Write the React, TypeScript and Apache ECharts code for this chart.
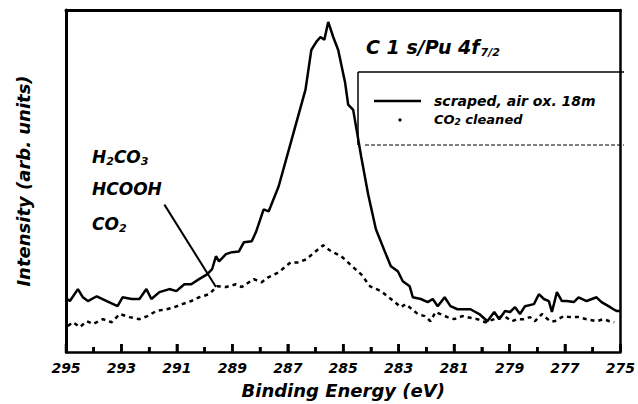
import { useEffect, useRef } from "react";
import * as echarts from "echarts";

// Binding energy axis: 295 eV on the left down to 275 eV on the right
const axisHigh = 295;
const axisLow = 275;
const majorStep = 2;

// tick positions (eV) along the energy axis
const majorTicks = [295, 293, 291, 289, 287, 285, 283, 281, 279, 277, 275];
const minorTicks = [294, 292, 290, 288, 286, 284, 282, 280, 278, 276];

// "scraped, air ox. 18m" (solid line)
const scrapedEnergy = [
  294.96, 294.86, 294.57, 294.39, 294.21, 293.89, 293.53, 293.14, 292.96, 292.63,
  292.35, 292.1, 291.92, 291.63, 291.27, 291.02, 290.73, 290.48, 290.2, 289.91,
  289.73, 289.59, 289.48, 289.23, 289.01, 288.76, 288.58, 288.3, 288.15, 287.87,
  287.69, 287.33, 286.86, 286.36, 286.15, 285.97, 285.82, 285.68, 285.54, 285.36,
  285.18, 284.93, 284.82, 284.64, 284.35, 284.1, 283.82, 283.49, 283.28, 283.03,
  282.85, 282.6, 282.49, 282.2, 281.95, 281.77, 281.59, 281.34, 281.13, 280.88,
  280.41, 280.09, 279.8, 279.55, 279.37, 279.16, 278.98, 278.8, 278.62, 278.44,
  278.12, 277.94, 277.76, 277.58, 277.47, 277.29, 277.11, 276.94, 276.68, 276.51,
  276.22, 275.86, 275.68, 275.43, 275.25, 275.14, 275.0,
];
const scrapedIntensity = [
  15.5, 14.9, 18.4, 16.0, 14.9, 16.3, 14.9, 13.4, 16.0, 15.5,
  15.5, 18.4, 15.5, 17.5, 18.4, 17.8, 19.8, 19.8, 21.3, 22.7,
  24.2, 28.0, 26.5, 28.6, 29.2, 29.4, 32.1, 32.4, 35.0, 41.7,
  41.1, 48.4, 62.1, 76.7, 88.3, 90.7, 92.1, 91.3, 96.5, 92.1,
  88.3, 78.7, 72.3, 70.8, 57.1, 46.1, 35.9, 29.2, 25.1, 23.6,
  20.7, 19.2, 16.0, 15.5, 14.6, 15.5, 13.4, 16.0, 13.4, 12.5,
  12.5, 11.1, 9.0, 11.7, 9.6, 12.0, 11.7, 13.1, 11.1, 13.4,
  14.0, 16.9, 15.5, 14.9, 11.7, 17.5, 14.9, 14.9, 14.6, 16.0,
  14.9, 16.0, 14.6, 13.4, 12.5, 12.0, 12.0,
];

// "CO2 cleaned" (dotted)
const cleanedEnergy = [
  294.93, 294.75, 294.5, 294.25, 294.03, 293.67, 293.35, 293.06, 292.71, 292.35,
  292.06, 291.74, 291.38, 291.09, 290.81, 290.48, 290.2, 289.84, 289.55, 289.23,
  288.87, 288.66, 288.23, 287.94, 287.69, 287.33, 286.9, 286.61, 286.33, 286.0,
  285.72, 285.43, 285.07, 284.64, 284.35, 284.03, 283.64, 283.28, 282.92, 282.74,
  282.31, 282.06, 281.85, 281.67, 281.49, 281.24, 280.99, 280.7, 280.52, 280.16,
  279.87, 279.55, 279.37, 279.19, 278.91, 278.73, 278.48, 278.26, 278.08, 277.83,
  277.54, 277.37, 277.04, 276.83, 276.51, 276.22, 275.86, 275.61, 275.39, 275.22,
];
const cleanedIntensity = [
  7.6, 8.7, 7.3, 9.0, 8.2, 9.6, 8.7, 11.1, 10.2, 9.6,
  10.5, 12.0, 12.5, 13.1, 14.0, 14.9, 16.0, 16.9, 19.2, 19.0,
  19.8, 19.0, 21.3, 20.4, 21.9, 23.3, 26.2, 26.2, 27.1, 29.4,
  31.2, 29.4, 28.0, 24.8, 22.7, 19.2, 17.8, 15.5, 13.1, 14.0,
  11.1, 10.5, 9.0, 11.7, 11.1, 10.2, 9.6, 10.5, 10.2, 9.6,
  8.7, 9.6, 10.2, 10.5, 9.0, 9.6, 9.6, 10.2, 9.0, 11.1,
  9.0, 9.0, 10.5, 10.2, 10.2, 9.6, 9.0, 9.6, 9.0, 8.7,
];

// leader line from the species labels to the shoulder
const leaderEnergy = [291.45, 289.59];
const leaderIntensity = [43.1, 19.0];

const FONT = "'DejaVu Sans', 'Liberation Sans', Arial, sans-serif";

const toPairs = (e: number[], v: number[]) => e.map((x, i) => [axisHigh - x, v[i]]);

const bi = (size: number) => ({
  fontFamily: FONT,
  fontWeight: "bold" as const,
  fontStyle: "italic" as const,
  fontSize: size,
  fill: "#000",
});

export default function App() {
  const ref = useRef<HTMLDivElement>(null);
  useEffect(() => {
    if (!ref.current) return;
    const chart = echarts.init(ref.current, undefined, { renderer: "svg" });
    const main = (s: number) => ({ fontFamily: FONT, fontWeight: "bold", fontStyle: "italic", fontSize: s });
    const sub = (s: number, p: number) => ({ ...main(s), padding: [p, 0, 0, 0] });
    const frameAxis = (w: number) => ({
      axisLine: { show: true, onZero: false, lineStyle: { color: "#000", width: w } },
      axisTick: { show: false },
      axisLabel: { show: false },
      splitLine: { show: false },
    });
    const baseGraphic: any[] = [
      {
        type: "text",
        x: 366,
        y: 47,
        style: {
          text: "{m|C 1 s/Pu 4f}{s|7/2}",
          rich: { m: main(19), s: { ...sub(11, 9), padding: [10, 0, 0, 1] } },
          verticalAlign: "middle",
          fill: "#000",
        },
      },
      { type: "line", shape: { x1: 358, y1: 72, x2: 624, y2: 72 }, style: { stroke: "#000", lineWidth: 1.5 } },
      { type: "line", shape: { x1: 358, y1: 72, x2: 358, y2: 145 }, style: { stroke: "#000", lineWidth: 1.5 } },
      {
        type: "line",
        shape: { x1: 365, y1: 145, x2: 624, y2: 145 },
        style: { stroke: "#000", lineWidth: 1.2, lineDash: [4, 2] },
      },
      { type: "line", shape: { x1: 374, y1: 101, x2: 421, y2: 101 }, style: { stroke: "#000", lineWidth: 2.5 } },
      { type: "text", x: 434, y: 101, style: { ...bi(14), text: "scraped, air ox. 18m", verticalAlign: "middle" } },
      { type: "circle", shape: { cx: 400, cy: 120, r: 1.6 }, style: { fill: "#000" } },
      {
        type: "text",
        x: 434,
        y: 119,
        style: {
          text: "{m|CO}{s|2}{m| cleaned}",
          rich: { m: main(13), s: sub(9, 6) },
          verticalAlign: "middle",
          fill: "#000",
        },
      },
      {
        type: "text",
        x: 92,
        y: 157,
        style: {
          text: "{m|H}{s|2}{m|CO}{s|3}",
          rich: { m: main(17), s: sub(11, 9) },
          verticalAlign: "middle",
          fill: "#000",
        },
      },
      { type: "text", x: 92, y: 189, style: { ...bi(17), text: "HCOOH", verticalAlign: "middle" } },
      {
        type: "text",
        x: 92,
        y: 224,
        style: {
          text: "{m|CO}{s|2}",
          rich: { m: main(17), s: sub(11, 9) },
          verticalAlign: "middle",
          fill: "#000",
        },
      },
    ];
    chart.setOption({
      animation: false,
      backgroundColor: "#fff",
      grid: {
        left: 66,
        right: 14,
        top: 10,
        bottom: 51,
        show: false,
        containLabel: false,
      },
      xAxis: [
        {
          type: "value",
          position: "bottom",
          min: 0,
          max: axisHigh - axisLow,
          interval: majorStep,
          name: "Binding Energy (eV)",
          nameLocation: "middle",
          nameGap: 29,
          nameTextStyle: { fontFamily: FONT, fontWeight: "bold", fontStyle: "italic", fontSize: 18, color: "#000" },
          axisLine: { show: true, onZero: false, lineStyle: { color: "#000", width: 2.5 } },
          axisTick: { show: true, inside: true, length: 8, lineStyle: { color: "#000", width: 2.5 } },
          minorTick: { show: true, splitNumber: 2, length: 5, lineStyle: { color: "#000", width: 2.5 } },
          splitLine: { show: false },
          axisLabel: {
            margin: 9,
            formatter: (v: number) => String(axisHigh - v),
            fontFamily: FONT,
            fontWeight: "bold",
            fontStyle: "italic",
            fontSize: 14,
            color: "#000",
          },
        },
        {
          type: "value",
          position: "top",
          min: 0,
          max: axisHigh - axisLow,
          ...frameAxis(3),
        },
      ],
      yAxis: [
        {
          type: "value",
          position: "left",
          min: 0,
          max: 100,
          name: "Intensity (arb. units)",
          nameLocation: "middle",
          nameGap: 34,
          nameTextStyle: { fontFamily: FONT, fontWeight: "bold", fontStyle: "italic", fontSize: 18, color: "#000" },
          ...frameAxis(3),
        },
        {
          type: "value",
          position: "right",
          min: 0,
          max: 100,
          ...frameAxis(2.5),
        },
      ],
      series: [
        {
          name: "scraped, air ox. 18m",
          type: "line",
          data: toPairs(scrapedEnergy, scrapedIntensity),
          showSymbol: false,
          lineStyle: { color: "#000", width: 2.5 },
          z: 3,
          markLine: {
            silent: true,
            symbol: "none",
            label: { show: false },
            lineStyle: { color: "#000", width: 2, type: "solid" },
            data: [
              [
                { coord: [axisHigh - leaderEnergy[0], leaderIntensity[0]] },
                { coord: [axisHigh - leaderEnergy[1], leaderIntensity[1]] },
              ],
            ],
          },
        },
        {
          name: "CO2 cleaned",
          type: "line",
          data: toPairs(cleanedEnergy, cleanedIntensity),
          showSymbol: false,
          lineStyle: { color: "#000", width: 2.5, type: [4, 4] },
          z: 2,
        },
      ],
      graphic: baseGraphic,
    });

    // tick marks placed through the chart's own x scale
    const tickEl = (e: number, len: number) => {
      const p = chart.convertToPixel({ xAxisIndex: 0, yAxisIndex: 0 }, [axisHigh - e, 0]) as number[];
      return {
        type: "line",
        shape: { x1: p[0], y1: p[1], x2: p[0], y2: p[1] - len },
        style: { stroke: "#000", lineWidth: 2.5 },
        z: 100,
      };
    };
    const ticks = [...majorTicks.map((e) => tickEl(e, 8)), ...minorTicks.map((e) => tickEl(e, 5))];
    chart.setOption({ graphic: [...baseGraphic, ...ticks] });

    return () => chart.dispose();
  }, []);
  return (
    <div
      ref={ref}
      style={{ position: "fixed", left: 0, top: 0, width: 638, height: 404, background: "#fff" }}
    />
  );
}
